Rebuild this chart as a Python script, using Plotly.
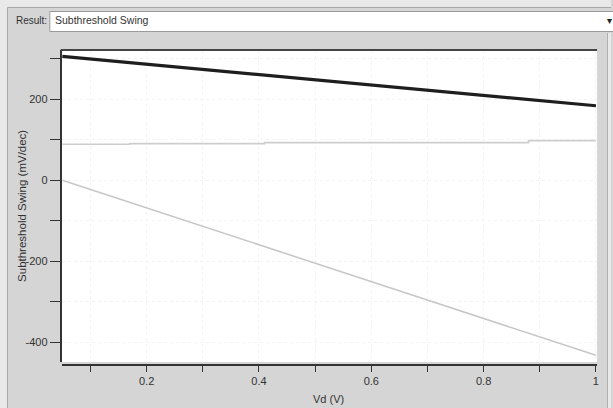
import plotly.graph_objects as go

# ---- data ----
vd_thick = [0.05, 0.5, 1.0]
ss_thick = [306, 248, 184]

vd_flat = [0.05, 0.17, 0.41, 0.88, 1.0]
ss_flat = [89, 90.5, 93, 98, 98]

vd_diag = [0.05, 0.5, 1.0]
ss_diag = [0, -205, -432]

x_tickvals = [0.1, 0.2, 0.3, 0.4, 0.5, 0.6, 0.7, 0.8, 0.9, 1.0]
x_ticktext = ["", "0.2", "", "0.4", "", "0.6", "", "0.8", "", "1"]
y_tickvals = [-400, -300, -200, -100, 0, 100, 200, 300]
y_ticktext = ["-400", "", "-200", "", "0", "", "200", ""]

W, H = 613, 408
def px(x):
    return x / W
def py(y):
    return 1 - y / H

FONT = "Liberation Sans Narrow, Arial Narrow, Liberation Sans, Arial, sans-serif"
FONT2 = "Liberation Sans, Arial, sans-serif"

fig = go.Figure()
fig.add_trace(go.Scatter(x=vd_flat, y=ss_flat, mode="lines", line_shape="hv",
                         line=dict(color="#cdcdcd", width=1.6), showlegend=False))
fig.add_trace(go.Scatter(x=vd_diag, y=ss_diag, mode="lines",
                         line=dict(color="#c6c6c6", width=1.5), showlegend=False))
fig.add_trace(go.Scatter(x=vd_thick, y=ss_thick, mode="lines",
                         line=dict(color="#1e1e1e", width=3.2), showlegend=False))

panel = "#d5d5d5"
outer = "#e9e9e9"
shapes = [
    dict(type="rect", xref="paper", yref="paper", x0=0, x1=px(7), y0=0, y1=1,
         fillcolor=outer, line=dict(width=0), layer="below"),
    dict(type="rect", xref="paper", yref="paper", x0=0, x1=1, y0=py(7), y1=1,
         fillcolor=outer, line=dict(width=0), layer="below"),
    dict(type="rect", xref="paper", yref="paper", x0=px(610), x1=1, y0=0, y1=py(33),
         fillcolor=outer, line=dict(width=0), layer="below"),
    dict(type="line", xref="paper", yref="paper", x0=px(7.5), x1=px(7.5), y0=0, y1=py(7.5),
         line=dict(color="#a8a8a8", width=1)),
    dict(type="line", xref="paper", yref="paper", x0=px(7.5), x1=1, y0=py(7.5), y1=py(7.5),
         line=dict(color="#a8a8a8", width=1)),
    dict(type="line", xref="paper", yref="paper", x0=px(609.5), x1=px(609.5), y0=0, y1=py(33),
         line=dict(color="#b0b0b0", width=1)),
    dict(type="rect", xref="paper", yref="paper", x0=px(50), x1=px(616), y0=py(31.5), y1=py(11.5),
         fillcolor="#ffffff", line=dict(color="#9a9a9a", width=1)),
    dict(type="line", xref="paper", yref="paper", x0=px(61), x1=px(599), y0=py(50), y1=py(50),
         line=dict(color="#444444", width=2), layer="above"),
]

annotations = [
    dict(text="Result:", x=px(14), y=py(20), xref="paper", yref="paper", showarrow=False,
         xanchor="left", yanchor="middle", font=dict(family=FONT2, size=10, color="#333")),
    dict(text="Subthreshold Swing", x=px(53), y=py(20), xref="paper", yref="paper", showarrow=False,
         xanchor="left", yanchor="middle", font=dict(family=FONT2, size=10.5, color="#333")),
    dict(text="▾", x=px(611), y=py(20), xref="paper", yref="paper", showarrow=False,
         xanchor="center", yanchor="middle", font=dict(family=FONT2, size=10, color="#222")),
    dict(text="Subthreshold Swing (mV/dec)", x=px(22), y=py(206), xref="paper", yref="paper",
         showarrow=False, textangle=-90, xanchor="center", yanchor="middle",
         font=dict(family=FONT2, size=11.5, color="#333")),
    dict(text="Vd (V)", x=px(330), y=py(399), xref="paper", yref="paper", showarrow=False,
         xanchor="center", yanchor="middle", font=dict(family=FONT2, size=11, color="#333")),
]

fig.update_layout(
    width=W, height=H, autosize=False,
    margin=dict(l=0, r=0, t=0, b=0, pad=0),
    paper_bgcolor=panel, plot_bgcolor="#ffffff",
    shapes=shapes, annotations=annotations,
    xaxis=dict(domain=[px(62), px(599)], range=[0.049, 1.002], anchor="free",
               position=py(365), tickvals=x_tickvals, ticktext=x_ticktext,
               ticks="outside", ticklen=6, tickwidth=1, tickcolor="#333",
               showline=True, linecolor="#333", linewidth=2,
               showgrid=True, gridcolor="#f3f3f3", griddash="dot", gridwidth=1,
               zeroline=False, tickfont=dict(family=FONT, size=11, color="#333")),
    yaxis=dict(domain=[py(362), py(50)], range=[-448.6, 321.7], anchor="x",
               tickvals=y_tickvals, ticktext=y_ticktext,
               ticks="outside", ticklen=10, tickwidth=1, tickcolor="#333",
               showline=True, linecolor="#333", linewidth=2,
               showgrid=True, gridcolor="#f3f3f3", griddash="dot", gridwidth=1,
               zeroline=False, tickfont=dict(family=FONT, size=11, color="#333")),
)

fig.write_html("out.html")
